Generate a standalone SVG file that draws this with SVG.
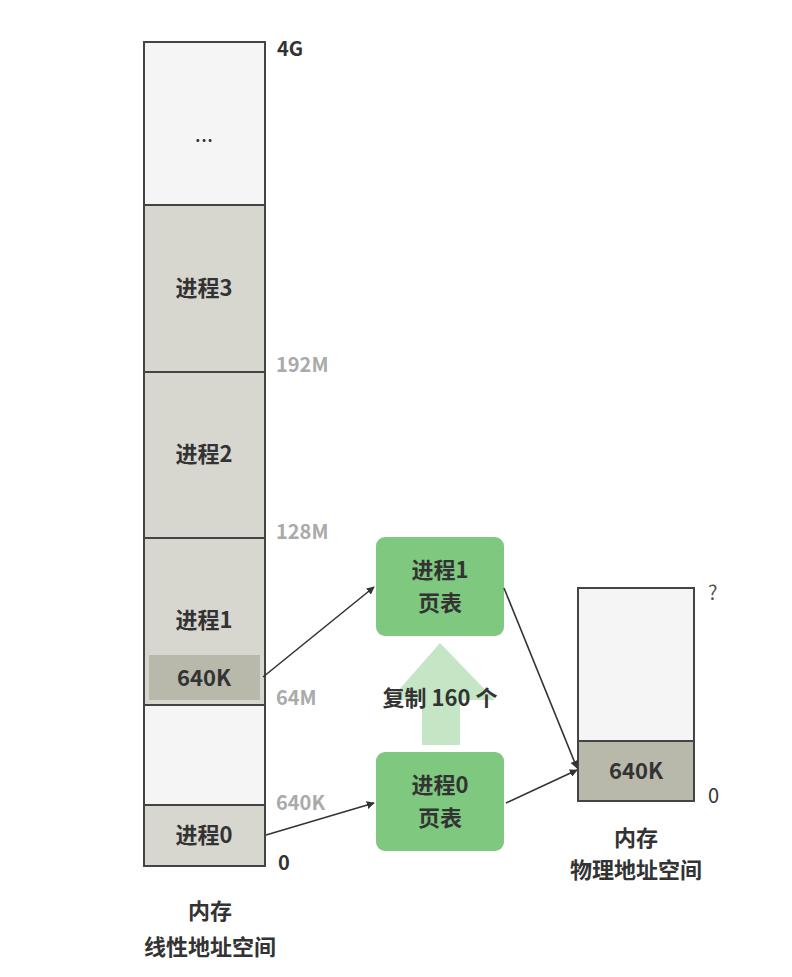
<svg xmlns="http://www.w3.org/2000/svg" width="792" height="977" viewBox="0 0 792 977">
<defs>
<marker id="ah" viewBox="0 0 10 10" refX="9" refY="5" markerWidth="8" markerHeight="8" markerUnits="userSpaceOnUse" orient="auto"><path d="M0,0 L10,5 L0,10 z" fill="#333"/></marker>
<style>
text{font-family:"Noto Sans CJK SC","Liberation Sans",sans-serif;font-weight:bold;}
.t{font-size:22px;fill:#333;text-anchor:middle}
.g{font-size:20px;fill:#aaa}
.k{font-size:20px;fill:#333}
.light{fill:#f5f5f5;stroke:#444;stroke-width:2}
.gray{fill:#d7d6cf;stroke:#444;stroke-width:2}
.dark{fill:#b8b8ab}
.green{fill:#7ec87f}
.c{stroke:#333;stroke-width:1.6;fill:none;marker-end:url(#ah)}
</style>
</defs>
<rect width="792" height="977" fill="#fff"/>
<g id="linear">
<rect class="light" x="144" y="42" width="121" height="163"/>
<text class="t" x="204" y="142" style="font-weight:normal">...</text>
<rect class="gray" x="144" y="205" width="121" height="167"/>
<text class="t" x="204" y="296">进程3</text>
<rect class="gray" x="144" y="372" width="121" height="166"/>
<text class="t" x="204" y="462">进程2</text>
<rect class="gray" x="144" y="538" width="121" height="167"/>
<text class="t" x="204" y="628">进程1</text>
<rect class="dark" x="149" y="655" width="111" height="45"/>
<text class="t" x="204" y="686">640K</text>
<rect class="light" x="144" y="705" width="121" height="100"/>
<rect class="gray" x="144" y="805" width="121" height="61"/>
<text class="t" x="204" y="843">进程0</text>
<text class="k" x="277" y="56">4G</text>
<text class="g" x="276" y="372">192M</text>
<text class="g" x="276" y="539">128M</text>
<text class="g" x="276" y="705">64M</text>
<text class="g" x="276" y="810">640K</text>
<text class="k" x="278" y="870">0</text>
<text class="t" x="210" y="919">内存</text>
<text class="t" x="210" y="955">线性地址空间</text>
</g>
<g id="copy">
<path d="M422,745 L460,745 L460,700 L495,700 L440,643 L390,700 L422,700 z" fill="#c5e6c5"/>
<text class="t" x="440" y="706">复制 160 个</text>
</g>
<g id="pt1">
<rect class="green" x="376" y="537" width="128" height="99" rx="9"/>
<text class="t" x="440" y="578">进程1</text>
<text class="t" x="440" y="611">页表</text>
</g>
<g id="pt0">
<rect class="green" x="376" y="752" width="128" height="99" rx="9"/>
<text class="t" x="440" y="793">进程0</text>
<text class="t" x="440" y="826">页表</text>
</g>
<g id="phys">
<rect class="light" x="578" y="588" width="116" height="153"/>
<rect class="gray" x="578" y="741" width="116" height="60" style="fill:#b8b8ab"/>
<text class="t" x="636" y="779">640K</text>
<text class="k" x="708" y="600" style="font-weight:normal;fill:#555">?</text>
<text class="k" x="708" y="803" style="font-weight:normal;fill:#333">0</text>
<text class="t" x="636" y="846">内存</text>
<text class="t" x="636" y="878">物理地址空间</text>
</g>
<g id="connectors">
<line class="c" x1="263" y1="677" x2="374" y2="587"/>
<line class="c" x1="266" y1="835" x2="374" y2="803"/>
<line class="c" x1="504" y1="588" x2="577" y2="768"/>
<line class="c" x1="506" y1="803" x2="577" y2="770"/>
</g>
</svg>
